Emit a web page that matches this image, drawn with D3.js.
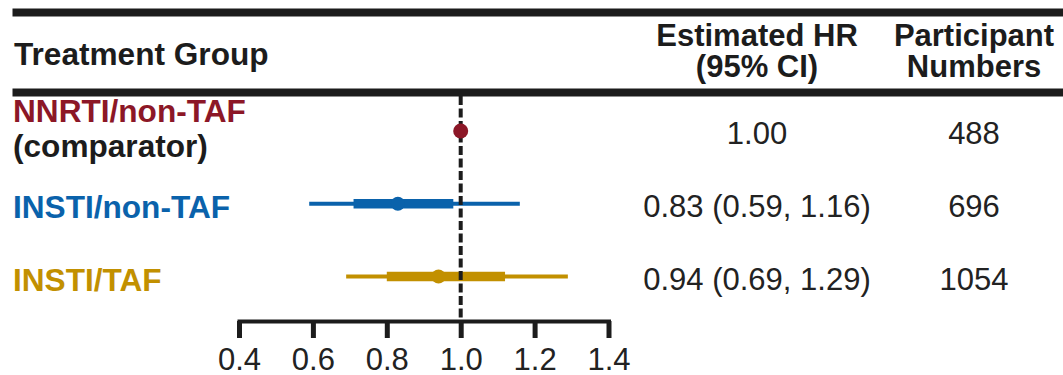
<!DOCTYPE html>
<html>
<head>
<meta charset="utf-8">
<script src="https://cdn.jsdelivr.net/npm/d3@7"></script>
<style>
  html, body { margin: 0; padding: 0; background: #fff; }
  svg { display: block; font-family: "Liberation Sans", Arial, sans-serif; }
</style>
</head>
<body>
<svg id="chart" width="1063" height="375"></svg>
<script>
// Treatment groups and their hazard-ratio estimates
const groups = ["NNRTI/non-TAF", "INSTI/non-TAF", "INSTI/TAF"];
const subLabels = ["(comparator)", "", ""];
const hr = [1.00, 0.83, 0.94];
const ciLow = [null, 0.59, 0.69];
const ciHigh = [null, 1.16, 1.29];
const innerLow = [null, 0.71, 0.80];
const innerHigh = [null, 0.98, 1.12];
const hrLabels = ["1.00", "0.83 (0.59, 1.16)", "0.94 (0.69, 1.29)"];
const participants = [488, 696, 1054];
const groupColors = ["#8c1727", "#0a62ab", "#c29000"];
const axisTicks = [0.4, 0.6, 0.8, 1.0, 1.2, 1.4];
const headers = {
  group: ["Treatment Group"],
  hr: ["Estimated HR", "(95% CI)"],
  n: ["Participant", "Numbers"]
};

const svg = d3.select("#chart");
const ink = "#1c1c1c";
const fontSize = 31;
const boldSize = 31.6;

const x = d3.scaleLinear().domain([0.4, 1.4]).range([239, 608.5]);
const y = d3.scalePoint().domain(groups).range([131, 276.5]);
const axisY = 321;
const hrCol = 757, nCol = 974, labelX = 13;

// Horizontal rules framing the header
[12.5, 92.5].forEach(ry => {
  svg.append("line")
    .attr("x1", 12.5).attr("x2", 1063)
    .attr("y1", ry).attr("y2", ry)
    .attr("stroke", ink).attr("stroke-width", 8);
});

// Header text
svg.append("text")
  .attr("x", labelX + 1).attr("y", 64.5)
  .attr("font-size", boldSize).attr("font-weight", "bold").attr("fill", ink)
  .text(headers.group[0]);

[[headers.hr, hrCol], [headers.n, nCol]].forEach(([lines, cx]) => {
  lines.forEach((t, i) => {
    svg.append("text")
      .attr("x", cx).attr("y", 46 + i * 30.5)
      .attr("text-anchor", "middle")
      .attr("font-size", fontSize).attr("font-weight", "bold").attr("fill", ink)
      .text(t);
  });
});

// Rows
const rows = groups.map((g, i) => ({
  group: g, sub: subLabels[i], hr: hr[i], lo: ciLow[i], hi: ciHigh[i],
  ilo: innerLow[i], ihi: innerHigh[i], label: hrLabels[i],
  n: participants[i], color: groupColors[i]
}));

// Group labels
rows.forEach(d => {
  const cy = y(d.group);
  if (d.sub) {
    svg.append("text")
      .attr("x", labelX).attr("y", cy - 9.5)
      .attr("font-size", boldSize).attr("font-weight", "bold").attr("fill", d.color)
      .text(d.group);
    svg.append("text")
      .attr("x", labelX).attr("y", cy + 25.5)
      .attr("font-size", boldSize).attr("font-weight", "bold").attr("fill", ink)
      .text(d.sub);
  } else {
    svg.append("text")
      .attr("x", labelX).attr("y", cy + 14)
      .attr("font-size", boldSize).attr("font-weight", "bold").attr("fill", d.color)
      .text(d.group);
  }
});

// Confidence intervals: thin full CI and thicker inner band
const ciRows = rows.filter(d => d.lo != null);
svg.append("g").selectAll("line")
  .data(ciRows).join("line")
  .attr("x1", d => x(d.lo)).attr("x2", d => x(d.hi))
  .attr("y1", d => y(d.group)).attr("y2", d => y(d.group))
  .attr("stroke", d => d.color).attr("stroke-width", 4);

svg.append("g").selectAll("line")
  .data(ciRows).join("line")
  .attr("x1", d => x(d.ilo)).attr("x2", d => x(d.ihi))
  .attr("y1", d => y(d.group)).attr("y2", d => y(d.group))
  .attr("stroke", d => d.color).attr("stroke-width", 9.5);

// Reference line at HR = 1
svg.append("line")
  .attr("x1", x(1)).attr("x2", x(1))
  .attr("y1", 96).attr("y2", axisY)
  .attr("stroke", ink).attr("stroke-width", 4)
  .attr("stroke-dasharray", "9,3.5");

// Point estimates
svg.append("g").selectAll("circle")
  .data(rows).join("circle")
  .attr("cx", d => x(d.hr)).attr("cy", d => y(d.group))
  .attr("r", (d, i) => i === 0 ? 7.5 : 7)
  .attr("fill", d => d.color);

// Value columns
rows.forEach(d => {
  const cy = y(d.group);
  svg.append("text")
    .attr("x", hrCol).attr("y", cy + 13)
    .attr("text-anchor", "middle")
    .attr("font-size", fontSize).attr("fill", "#222")
    .text(d.label);
  svg.append("text")
    .attr("x", nCol).attr("y", cy + 13)
    .attr("text-anchor", "middle")
    .attr("font-size", fontSize).attr("fill", "#222")
    .text(d.n);
});

// X axis with downward ticks
const axis = d3.axisBottom(x)
  .tickValues(axisTicks)
  .tickFormat(d3.format(".1f"))
  .tickSize(17)
  .tickSizeOuter(0);

const gAxis = svg.append("g")
  .attr("transform", `translate(0,${axisY})`)
  .call(axis);

gAxis.select(".domain")
  .attr("stroke", ink).attr("stroke-width", 4)
  .attr("stroke-linecap", "square");
gAxis.selectAll(".tick line")
  .attr("stroke", ink).attr("stroke-width", 5);
gAxis.selectAll(".tick text")
  .attr("y", 49).attr("dy", 0)
  .attr("font-size", fontSize)
  .attr("font-family", "Liberation Sans, Arial, sans-serif")
  .attr("fill", "#222");
</script>
</body>
</html>
